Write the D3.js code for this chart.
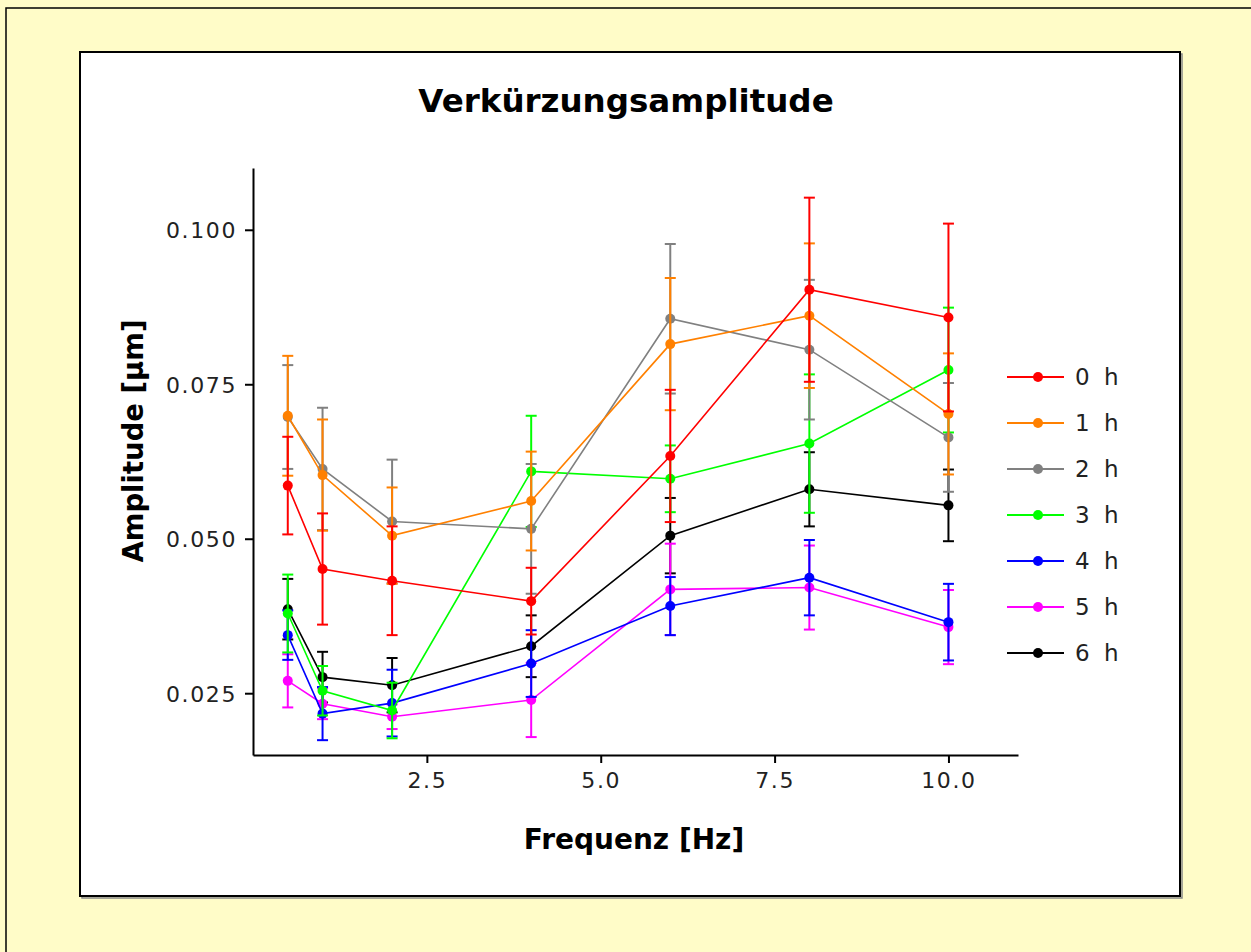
<!DOCTYPE html>
<html><head><meta charset="utf-8">
<script src="https://cdn.jsdelivr.net/npm/d3@7"></script>
<style>html,body{margin:0;padding:0;background:#FFFCC8;overflow:hidden}</style>
</head><body>
<svg id="chart" width="1251" height="952"></svg>
<script>
const frequencies = [0.5, 1, 2, 4, 6, 8, 10];
const seriesNames = ["0 h", "1 h", "2 h", "3 h", "4 h", "5 h", "6 h"];
const seriesColors = ["#FF0000", "#FF8000", "#808080", "#00FF00", "#0000FF", "#FF00FF", "#000000"];
const mean0h = [0.0586, 0.0451, 0.0432, 0.0399, 0.0634, 0.0903, 0.0858];
const err0h  = [0.0079, 0.0090, 0.0088, 0.0054, 0.0107, 0.0149, 0.0152];
const mean1h = [0.0699, 0.0603, 0.0505, 0.0561, 0.0815, 0.0861, 0.0702];
const err1h  = [0.0097, 0.0090, 0.0078, 0.0080, 0.0107, 0.0117, 0.0098];
const mean2h = [0.0697, 0.0613, 0.0528, 0.0516, 0.0856, 0.0806, 0.0664];
const err2h  = [0.0084, 0.0099, 0.0100, 0.0105, 0.0121, 0.0113, 0.0088];
const mean3h = [0.0379, 0.0254, 0.0222, 0.0609, 0.0597, 0.0654, 0.0773];
const err3h  = [0.0063, 0.0040, 0.0045, 0.0090, 0.0054, 0.0112, 0.0101];
const mean4h = [0.0344, 0.0217, 0.0234, 0.0298, 0.0391, 0.0437, 0.0365];
const err4h  = [0.0040, 0.0043, 0.0054, 0.0054, 0.0047, 0.0061, 0.0062];
const mean5h = [0.0270, 0.0233, 0.0212, 0.0239, 0.0418, 0.0421, 0.0357];
const err5h  = [0.0043, 0.0025, 0.0020, 0.0060, 0.0074, 0.0068, 0.0060];
const mean6h = [0.0386, 0.0276, 0.0263, 0.0326, 0.0505, 0.0580, 0.0554];
const err6h  = [0.0049, 0.0041, 0.0044, 0.0050, 0.0061, 0.0060, 0.0058];
const xTicks = [2.5, 5.0, 7.5, 10.0];
const xTickLabels = ["2.5", "5.0", "7.5", "10.0"];
const yTicks = [0.025, 0.050, 0.075, 0.100];
const yTickLabels = ["0.025", "0.050", "0.075", "0.100"];
const titleText = "Verkürzungsamplitude";
const xTitle = "Frequenz [Hz]";
const yTitle = "Amplitude [µm]";

const means = [mean0h, mean1h, mean2h, mean3h, mean4h, mean5h, mean6h];
const errs = [err0h, err1h, err2h, err3h, err4h, err5h, err6h];
const series = seriesNames.map((n, i) => ({
  name: n, color: seriesColors[i],
  pts: frequencies.map((f, j) => ({x: f, y: means[i][j], e: errs[i][j]}))
}));

const svg = d3.select("#chart");
const FONT = "'DejaVu Sans', Verdana, sans-serif";

// outer frame
svg.append("rect").attr("x", 6).attr("y", 8).attr("width", 1300).attr("height", 1000)
  .attr("fill", "#FFFCC8").attr("stroke", "#000").attr("stroke-width", 1.5);
// inner panel with shadow
svg.append("rect").attr("x", 82).attr("y", 54).attr("width", 1100).attr("height", 844)
  .attr("fill", "none").attr("stroke", "#888").attr("stroke-width", 1.5);
svg.append("rect").attr("x", 80).attr("y", 52).attr("width", 1100).attr("height", 844)
  .attr("fill", "#FFFFFF").attr("stroke", "#000").attr("stroke-width", 2);

const x = d3.scaleLinear().domain([0, 11]).range([253, 1018]);
const y = d3.scaleLinear().domain([0.015, 0.110]).range([755, 168]);

// axes
const xAxis = d3.axisBottom(x).tickValues(xTicks).tickSize(8).tickSizeOuter(0)
  .tickFormat((d, i) => xTickLabels[i]).tickPadding(9);
const gx = svg.append("g").attr("transform", "translate(0,755)").call(xAxis);
const yAxis = d3.axisLeft(y).tickValues(yTicks).tickSize(8).tickSizeOuter(0)
  .tickFormat((d, i) => yTickLabels[i]).tickPadding(8);
const gy = svg.append("g").attr("transform", "translate(253,0)").call(yAxis);
[gx, gy].forEach(g => {
  g.select(".domain").attr("stroke", "#000").attr("stroke-width", 2);
  g.selectAll(".tick line").attr("stroke", "#000").attr("stroke-width", 2);
  g.selectAll(".tick text").attr("font-family", FONT).attr("font-size", 22)
    .attr("fill", "#222").attr("letter-spacing", "1.6px");
});
gy.selectAll(".tick text").attr("dy", "0.36em");

// series: draw in reverse so early series sit on top
const order = series.slice().reverse();
const line = d3.line().x(d => x(d.x)).y(d => y(d.y));
order.forEach(s => {
  const g = svg.append("g");
  g.append("path").datum(s.pts).attr("d", line).attr("fill", "none")
    .attr("stroke", s.color).attr("stroke-width", 1.6);
  const eb = g.selectAll(".eb").data(s.pts).enter().append("g");
  eb.append("line").attr("x1", d => x(d.x)).attr("x2", d => x(d.x))
    .attr("y1", d => y(d.y - d.e)).attr("y2", d => y(d.y + d.e))
    .attr("stroke", s.color).attr("stroke-width", 2);
  [-1, 1].forEach(sg => {
    eb.append("line").attr("x1", d => x(d.x) - 5.5).attr("x2", d => x(d.x) + 5.5)
      .attr("y1", d => y(d.y + sg * d.e)).attr("y2", d => y(d.y + sg * d.e))
      .attr("stroke", s.color).attr("stroke-width", 2);
  });
  g.selectAll("circle").data(s.pts).enter().append("circle")
    .attr("cx", d => x(d.x)).attr("cy", d => y(d.y)).attr("r", 5).attr("fill", s.color);
});

// titles
svg.append("text").attr("x", 626).attr("y", 112).attr("text-anchor", "middle")
  .attr("font-family", FONT).attr("font-weight", "bold").attr("font-size", 32.5)
  .attr("fill", "#000").text(titleText);
svg.append("text").attr("x", 634).attr("y", 849).attr("text-anchor", "middle")
  .attr("font-family", FONT).attr("font-weight", "bold").attr("font-size", 28)
  .attr("fill", "#000").text(xTitle);
svg.append("text").attr("transform", "translate(143,441) rotate(-90)").attr("text-anchor", "middle")
  .attr("font-family", FONT).attr("font-weight", "bold").attr("font-size", 27.5)
  .attr("fill", "#000").text(yTitle);

// legend
const legY = d3.scaleBand().domain(seriesNames).range([354, 676]).paddingInner(0).align(0.5);
const lg = svg.append("g");
series.forEach(s => {
  const cy = legY(s.name) + legY.bandwidth() / 2;
  lg.append("line").attr("x1", 1007).attr("x2", 1064).attr("y1", cy).attr("y2", cy)
    .attr("stroke", s.color).attr("stroke-width", 2);
  lg.append("circle").attr("cx", 1038).attr("cy", cy).attr("r", 5).attr("fill", s.color);
  lg.append("text").attr("x", 1075).attr("y", cy).attr("dy", "0.36em")
    .attr("font-family", FONT).attr("font-size", 23).attr("letter-spacing", "3.5px")
    .attr("fill", "#222").text(s.name);
});
</script>
</body></html>
